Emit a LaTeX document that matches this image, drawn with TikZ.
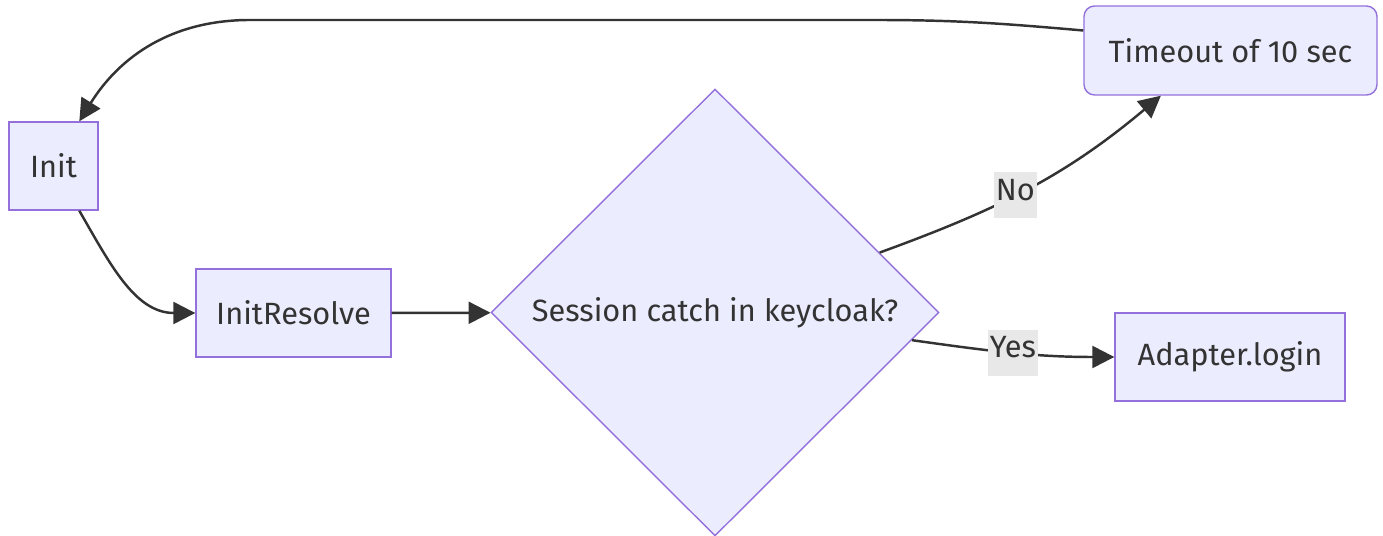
\documentclass[tikz,border=0pt]{standalone}
\usepackage{fontspec}
\setmainfont{Fira Sans}
\usetikzlibrary{shapes.geometric,arrows.meta,positioning}
\definecolor{nodefill}{HTML}{ECECFF}
\definecolor{nodeborder}{HTML}{9370DB}
\definecolor{linedark}{HTML}{333333}
\definecolor{labelgrey}{HTML}{E8E8E8}

\begin{document}
\begin{tikzpicture}[
    box/.style={rectangle, draw=nodeborder, fill=nodefill, line width=0.8pt,
                minimum height=1.76cm, inner sep=0pt, text=linedark,
                font=\fontsize{17.5}{21}\selectfont},
    rbox/.style={box, rounded corners=6pt},
    decision/.style={diamond, shape aspect=1, draw=nodeborder, fill=nodefill, line width=0.8pt,
                     minimum width=8.96cm, minimum height=8.94cm, inner sep=0pt, text=linedark,
                     font=\fontsize{17.5}{21}\selectfont},
    flow/.style={draw=linedark, line width=1.4pt, -{Triangle[length=4.4mm,width=4.4mm]}},
    lbl/.style={fill=labelgrey, text=linedark, inner xsep=1pt, inner ysep=0pt,
                text height=0.56cm, text depth=0.36cm, font=\fontsize{17.5}{21}\selectfont}
]
    \useasboundingbox (0,0) rectangle (27.66,-10.72);
    \node[box, minimum width=1.78cm] (init) at (1.07,-3.32) {Init};
    \node[box, minimum width=3.9cm] (resolve) at (5.87,-6.26) {InitResolve};
    \node[decision] (session) at (14.3,-6.25) {Session catch in keycloak?};
    \node[rbox, minimum width=5.86cm, minimum height=1.78cm] (timeout) at (24.61,-1.01) {Timeout of 10 sec};
    \node[box, minimum width=4.6cm] (login) at (24.6,-7.14) {Adapter.login};
    \draw[flow] (init) to[out=-60, in=180] (resolve);
    \draw[flow] (resolve) -- (session);
    \draw[flow] (session) to[out=20, in=-140] node[lbl, pos=0.45] {No} (timeout.-147);
    \draw[flow] (session) to[out=-8, in=180] node[lbl, pos=0.5] {Yes} (login);
    \draw[flow] ([yshift=4mm]timeout.west) to[out=175, in=0] (17.5,-0.4) -- (5,-0.4)
        to[out=180, in=58] (init.60);
\end{tikzpicture}
\end{document}
